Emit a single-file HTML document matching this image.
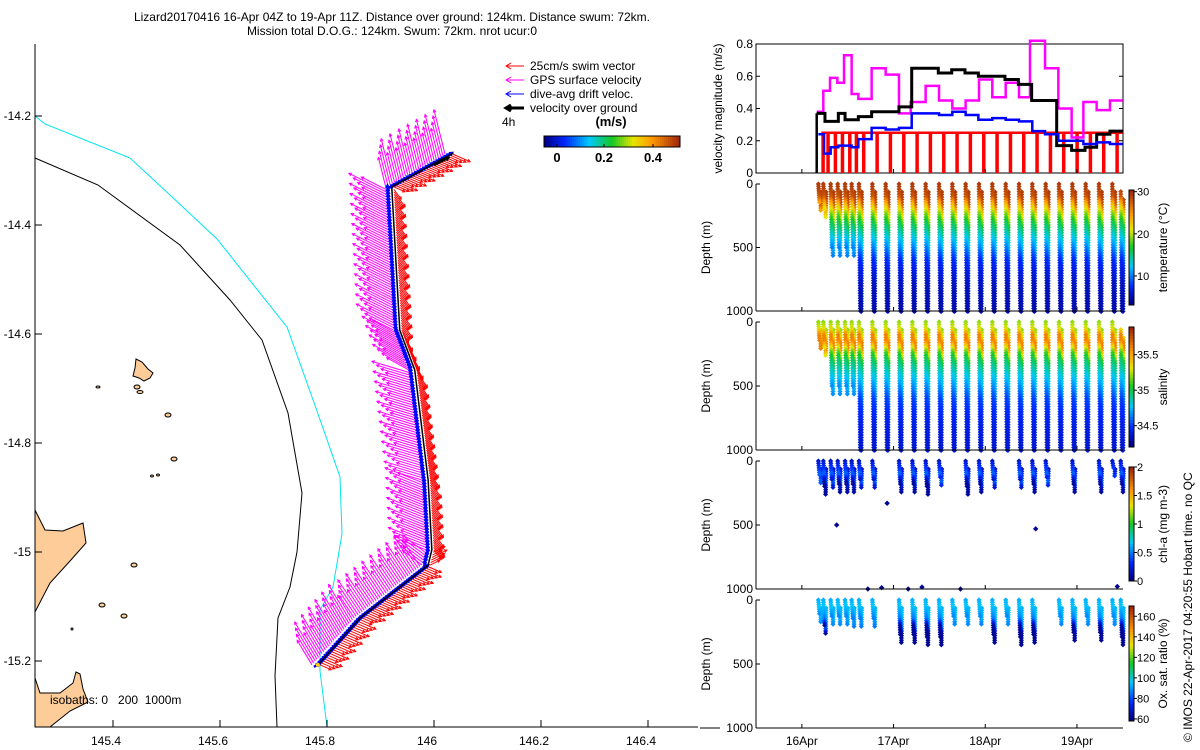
<!DOCTYPE html>
<html><head><meta charset="utf-8"><style>
html,body{margin:0;padding:0;background:#fff;}
svg{display:block;font-family:"Liberation Sans",sans-serif;}
</style></head><body>
<svg id="chart" width="1200" height="750" viewBox="0 0 1200 750" xmlns="http://www.w3.org/2000/svg">
<g font-size="12" text-anchor="middle" fill="#000">
<text x="392" y="21">Lizard20170416 16-Apr 04Z to 19-Apr 11Z. Distance over ground: 124km. Distance swum: 72km.</text>
<text x="392" y="35">Mission total D.O.G.: 124km. Swum: 72km. nrot ucur:0</text>
</g>
<g id="map"></g>
<g id="right"></g>
<text transform="translate(1192,742) rotate(-90)" font-size="12">© IMOS 22-Apr-2017 04:20:55 Hobart time. no QC</text>
</svg>
<script>
// ---------- DATA ----------
const trackLon=[145.783,145.862,145.989,145.996,145.989,145.964,145.936,145.921,146.036];
const trackLat=[-15.207,-15.121,-15.024,-14.996,-14.868,-14.666,-14.593,-14.330,-14.268];
const gpsU=[-0.30,-0.30,-0.40,-0.50,-0.50,-0.45,-0.50,-0.15];
const gpsV=[0.50,0.45,0.30,0.20,0.15,0.25,0.25,0.60];
const swimU=[0.23,0.23,0.20,0.15,0.14,0.12,0.15,0.23];
const swimV=[-0.10,-0.10,0.10,-0.20,-0.20,-0.21,-0.20,-0.10];
const driftU=[0.30,0.35,0.05,-0.02,-0.05,-0.05,-0.02,0.30];
const driftV=[0.15,0.20,0.35,0.35,0.35,0.35,0.35,0.20];
const mapXTicks=[145.4,145.6,145.8,146,146.2,146.4];
const mapYTicks=[-14.2,-14.4,-14.6,-14.8,-15,-15.2];
const gpsT=[16.162,16.234,16.307,16.387,16.460,16.543,16.616,16.761,16.914,17.059,17.187,17.350,17.496,17.641,17.786,17.932,18.077,18.223,18.368,18.488,18.652,18.797,18.942,19.070,19.215,19.360];
const gpsMag=[0.38,0.51,0.59,0.56,0.73,0.49,0.46,0.65,0.61,0.37,0.44,0.54,0.45,0.40,0.45,0.58,0.47,0.56,0.47,0.85,0.65,0.40,0.22,0.44,0.39,0.45];
const dogT=[16.162,16.252,16.398,16.471,16.616,16.761,17.059,17.198,17.488,17.634,17.779,17.925,18.070,18.215,18.361,18.506,18.779,18.942,19.088,19.215,19.360];
const dogMag=[0.37,0.32,0.37,0.33,0.35,0.38,0.41,0.65,0.62,0.64,0.62,0.60,0.60,0.58,0.55,0.45,0.17,0.14,0.16,0.24,0.26];
const driftT=[16.180,16.242,16.314,16.398,16.543,16.616,16.761,16.914,17.059,17.198,17.496,17.641,17.786,17.925,18.077,18.223,18.368,18.513,18.652,18.797,18.942,19.070,19.215,19.360];
const driftMag=[0.24,0.12,0.16,0.17,0.16,0.21,0.28,0.27,0.28,0.37,0.36,0.38,0.36,0.33,0.34,0.33,0.32,0.26,0.24,0.20,0.20,0.18,0.19,0.18];
const swimMag=0.25;
const diveT=[16.180,16.234,16.314,16.391,16.471,16.543,16.623,16.769,16.914,17.060,17.205,17.350,17.496,17.641,17.786,17.932,18.077,18.223,18.368,18.513,18.659,18.804,18.950,19.095,19.240,19.386,19.477];
const diveMax=[160,200,500,500,500,500,1000,1000,1000,1000,1000,1000,1000,1000,1000,1000,1000,1000,1000,1000,1000,1000,1000,1000,1000,1000,1000];
const diveStart=[0,0,0,0,0,0,0,0,0,0,0,0,0,0,0,0,0,0,0,0,0,0,0,0,0,0,60];
const profDepth=[0,50,100,150,200,250,300,400,500,600,800,1000];
const tempVal=[29.5,29,28,24,21,18,16,13,10,7,5,4.5];
const salVal=[35.2,35.3,35.6,35.6,35.3,35.05,34.95,34.8,34.65,34.5,34.4,34.35];
const chlDepth=[0,40,80,100,120,160,200];
const chlVal=[0.15,0.3,0.35,0.5,0.3,0.1,0.05];
const chlMaxD=[120,200,160,180,180,180,160,150,0,180,180,200,140,0,200,180,160,0,160,180,140,0,180,0,180,60,180];
const chlOutD=[500,330,530,1000,990,1000,985,1000,980];
const chlOutT=[16.38,16.93,18.55,16.72,16.87,17.16,17.31,17.73,19.44];
const oxDepth=[0,50,100,150,200,300];
const oxVal=[92,95,90,85,62,60];
const oxMaxD=[120,200,140,140,140,150,150,150,0,280,280,290,290,140,140,140,280,140,290,280,0,140,260,140,260,140,290];
// ---------- HELPERS ----------
const NS='http://www.w3.org/2000/svg';
function mk(tag,attrs,parent){const e=document.createElementNS(NS,tag);for(const k in attrs)e.setAttribute(k,attrs[k]);parent.appendChild(e);return e;}
const stops=[[0,[0,0,130]],[0.15,[0,40,255]],[0.33,[0,200,255]],[0.5,[20,200,40]],[0.66,[230,230,0]],[0.8,[255,150,0]],[1,[160,40,10]]];
function jet(f){f=Math.max(0,Math.min(1,f));for(let i=1;i<stops.length;i++){if(f<=stops[i][0]){const a=stops[i-1],b=stops[i];const u=(f-a[0])/(b[0]-a[0]);const c=a[1].map((v,j)=>Math.round(v+(b[1][j]-v)*u));return `rgb(${c[0]},${c[1]},${c[2]})`;}}return 'rgb(160,40,10)';}
function interp(xs,ys,x){if(x<=xs[0])return ys[0];for(let i=1;i<xs.length;i++)if(x<=xs[i]){const u=(x-xs[i-1])/(xs[i]-xs[i-1]);return ys[i-1]+(ys[i]-ys[i-1])*u;}return ys[ys.length-1];}
// ---------- MAP ----------
const map=document.getElementById('map');
const mx=lon=>113+(lon-145.4)*535;
const my=lat=>552-(lat+15)*545;
const land=[
"M35,510 L45,530 L63,531 L83,523 L86,543 L70,561 L50,583 L35,612 Z",
"M35,678 L40,693 L60,693 L73,683 L76,672 L80,674 L83,689 L88,702 L70,711 L50,727 L35,727 Z",
"M136,359 L142,362 L148,369 L153,373 L150,378 L144,381 L139,378 L133,376 L135,368 Z"];
land.forEach((d,i)=>{const p=mk('path',{d:d,fill:'#fdcc99',stroke:'#000','stroke-width':1},map);

});
const isl=[[137,387,3,2],[140,392,3,1.5],[168,415,3,2],[174,459,3,2],[152,476,1.5,1],[158,475,1.5,1],[134,565,3,2],[102,605,3,2],[124,616,3,2],[98,387,2,1],[72,629,1,1]];
isl.forEach(s=>{const e=mk('ellipse',{cx:s[0],cy:s[1],rx:s[2],ry:s[3],fill:'#fdcc99',stroke:'#000','stroke-width':1},map);

});
const cy200=mk('polyline',{points:"35,116 45,124 130,158 170,195 217,239 287,327 317,411 340,477 342,534 333,587 320,610 320,671 327,727",fill:'none',stroke:'#00e5ee','stroke-width':1},map);


const bk1000=mk('polyline',{points:"35,158 98,185 180,245 230,300 262,340 288,413 302,493 297,552 290,587 278,618 275,676 277,727",fill:'none',stroke:'#000','stroke-width':1},map);


const ax=mk('path',{d:"M35,44 L35,727 L698,727",fill:'none',stroke:'#000','stroke-width':1},map);


mapXTicks.forEach(v=>{const x=mx(v);mk('line',{x1:x,x2:x,y1:727,y2:720,stroke:'#000'},map);
const t=mk('text',{x:x-7,y:745,'font-size':12,'text-anchor':'middle'},map);t.textContent=String(v);

});
mapYTicks.forEach(v=>{const y=my(v);mk('line',{x1:35,x2:42,y1:y,y2:y,stroke:'#000'},map);
const t=mk('text',{x:31,y:y+4,'font-size':12,'text-anchor':'end'},map);t.textContent=String(v);

});
const iso=mk('text',{x:50,y:704,'font-size':12},map);iso.textContent='isobaths: 0   200  1000m';
iso.style.whiteSpace='pre';


const SC=70;
function arrow(g,x,y,u,v,col,w,h){const x2=x+u*SC,y2=y-v*SC;mk('line',{x1:x,y1:y,x2:x2,y2:y2,stroke:col,'stroke-width':w},g);
const a=Math.atan2(y2-y,x2-x);h=h||3;
mk('polyline',{points:`${x2-h*Math.cos(a-0.5)},${y2-h*Math.sin(a-0.5)} ${x2},${y2} ${x2-h*Math.cos(a+0.5)},${y2-h*Math.sin(a+0.5)}`,fill:'none',stroke:col,'stroke-width':w},g);}
const gG=mk('g',{},map);
const gR=mk('g',{},map);
const gB=mk('g',{},map);
for(let s=0;s<trackLon.length-1;s++){
 const x0=mx(trackLon[s]),y0=my(trackLat[s]),x1=mx(trackLon[s+1]),y1=my(trackLat[s+1]);
 const L=Math.hypot(x1-x0,y1-y0);const n=Math.max(2,Math.round(L/2.5));
 for(let k=0;k<n;k++){const u=k/n;const x=x0+(x1-x0)*u,y=y0+(y1-y0)*u;
  const j=(k%4)*0.12+0.7;
  arrow(gG,x-6,y,gpsU[s]*j,gpsV[s]*j,'#ff00ff',1);
  arrow(gR,x+2,y,swimU[s]*j,swimV[s]*j,'#ff0000',1);}
}
for(let s=0;s<trackLon.length-1;s++){
 const x0=mx(trackLon[s]),y0=my(trackLat[s]),x1=mx(trackLon[s+1]),y1=my(trackLat[s+1]);
 const L=Math.hypot(x1-x0,y1-y0);const n=Math.max(2,Math.round(L/3));
 for(let k=0;k<n;k++){const u=k/n;const x=x0+(x1-x0)*u,y=y0+(y1-y0)*u;
  arrow(gB,x-4,y+2,driftU[s]*0.25,driftV[s]*0.25,'#0000ff',2.5,3);}
}
const trk=mk('polyline',{points:trackLon.map((l,i)=>mx(l)+','+my(trackLat[i])).join(' '),fill:'none',stroke:'#000','stroke-width':1.5},map);


const vog=mk('g',{},map);
arrow(vog,mx(146.0),my(-14.29),0.2,0.1,'#000',2.5);
mk('circle',{cx:mx(trackLon[0]),cy:my(trackLat[0]),r:2,fill:'#ffcc00'},map);
const leg=mk('g',{'font-size':12},map);
[['25cm/s swim vector','#ff0000',1],['GPS surface velocity','#ff00ff',1],['dive-avg drift veloc.','#0000ff',1],['velocity over ground','#000',3]].forEach((e,i)=>{
 const y=66+i*14;const g=mk('g',{},leg);
 
 
 mk('line',{x1:506,x2:524,y1:y,y2:y,stroke:e[1],'stroke-width':e[2]},g);
 mk('polyline',{points:`511,${y-3} 506,${y} 511,${y+3}`,fill:'none',stroke:e[1],'stroke-width':e[2]},g);
 const t=mk('text',{x:530,y:y+4},g);t.textContent=e[0];});
const t4=mk('text',{x:502,y:126,'font-size':12},leg);t4.textContent='4h';
const tu=mk('text',{x:611,y:126,'font-size':13,'font-weight':'bold','text-anchor':'middle'},leg);tu.textContent='(m/s)';
const cbm=mk('g',{},leg);
for(let i=0;i<68;i++)mk('rect',{x:544+i*2,y:136,width:2.2,height:11,fill:jet(i/67)},cbm);
mk('rect',{x:544,y:136,width:136,height:11,fill:'none',stroke:'#000'},cbm);
[['0',557],['0.2',604],['0.4',653]].forEach(a=>{mk('line',{x1:a[1],x2:a[1],y1:147,y2:144,stroke:'#000'},cbm);
const t=mk('text',{x:a[1],y:162,'font-size':13,'font-weight':'bold','text-anchor':'middle'},cbm);t.textContent=a[0];});
// ---------- RIGHT PANELS ----------
const R=document.getElementById('right');
const X0=756,X1=1123;
const xT=t=>X0+(t-15.5)*91.7;
const panels=[[44,173],[184,311],[322,450],[461,589],[600,728]];
function yAxis(p,g,ticks,fn,label,lx){const [t,b]=p;
 mk('line',{x1:X0,x2:X0,y1:t,y2:b,stroke:'#000'},g);mk('line',{x1:X0,x2:X1,y1:b,y2:b,stroke:'#000'},g);
 ticks.forEach(v=>{const y=fn(v);mk('line',{x1:X0,x2:X0+4,y1:y,y2:y,stroke:'#000'},g);
 const tx=mk('text',{x:X0-3,y:y+4,'font-size':12,'text-anchor':'end'},g);tx.textContent=String(v);
 
 });
 const yl=mk('text',{transform:`translate(${lx},${(t+b)/2}) rotate(-90)`,'font-size':12,'text-anchor':'middle'},g);yl.textContent=label;
 
 }
function cbar(g,top,bot,vmin,vmax,ticks,label){
 const n=40;for(let i=0;i<n;i++){const y=top+(bot-top)*i/n;mk('rect',{x:1129,y:y,width:5,height:(bot-top)/n+0.5,fill:jet(1-i/(n-1))},g);}
 mk('rect',{x:1129,y:top,width:5,height:bot-top,fill:'none',stroke:'#000'},g);
 ticks.forEach(v=>{const y=bot-(v-vmin)/(vmax-vmin)*(bot-top);mk('line',{x1:1134,x2:1137,y1:y,y2:y,stroke:'#000'},g);
 const t=mk('text',{x:1137,y:y+4,'font-size':11},g);t.textContent=String(v);});
 const l=mk('text',{transform:`translate(1167,${(top+bot)/2}) rotate(-90)`,'font-size':12,'text-anchor':'middle'},g);l.textContent=label;}
const g1=mk('g',{},R);
const yV=v=>173-Math.min(v,0.82)/0.8*129;
mk('rect',{x:X0,y:44,width:X1-X0,height:129,fill:'none',stroke:'#000'},g1);
yAxis(panels[0],g1,[0,0.2,0.4,0.6,0.8],yV,'velocity magnitude (m/s)',722);
[0.2,0.4,0.6].forEach(v=>mk('line',{x1:X1,x2:X1-4,y1:yV(v),y2:yV(v),stroke:'#000'},g1));
function steps(T,V,col,w,name){let pts=[];for(let i=0;i<T.length;i++){const x=xT(T[i]);if(i>0)pts.push(x+','+yV(V[i-1]));pts.push(x+','+yV(V[i]));}
 pts.push(xT(19.5)+','+yV(V[V.length-1]));
 const p=mk('polyline',{points:pts.join(' '),fill:'none',stroke:col,'stroke-width':w},g1);
 
 
 return p;}
const rg=mk('g',{},g1);
mk('line',{x1:xT(diveT[0])+3,x2:xT(19.5),y1:yV(swimMag),y2:yV(swimMag),stroke:'#ff0000','stroke-width':2.5},rg);
diveT.slice(0,26).forEach(t=>{const x=xT(t)+3;mk('rect',{x:x,y:yV(swimMag),width:3.5,height:173-yV(swimMag),fill:'#ff0000'},rg);});
steps(gpsT,gpsMag,'#ff00ff',2.5,'gps-speed-series');
steps(dogT,dogMag,'#000',3,'over-ground-speed-series');
mk('line',{x1:xT(dogT[0]),x2:xT(dogT[0]),y1:173,y2:yV(dogMag[0]),stroke:'#000','stroke-width':2.5},g1);
steps(driftT,driftMag,'#0000ff',2.5,'drift-speed-series');
function scatter(g,p,vals,depths,vmin,vmax,maxArr,startArr){
 const yD=d=>p[0]+d/1000*(p[1]-p[0]);
 diveT.forEach((t,i)=>{const md=maxArr[i];if(md<=0)return;const st=startArr?startArr[i]:0;
  for(let d=st;d<=md;d+=(md>300?20:18)){const c=jet((interp(depths,vals,d)-vmin)/(vmax-vmin));
   const f=d/md;
   [t+0.015*f, t+0.03-0.005*f].forEach((tt,k)=>{const x=xT(tt),y=yD(d)+(k?8:0);
    if(y>p[1]+1)return;
    mk('path',{d:`M${x-2},${y} L${x},${y-2} L${x+2},${y} L${x},${y+2} Z`,fill:c,stroke:c,'stroke-width':0.8},g);});}});}
const g2=mk('g',{},R);
const yD2=d=>184+d/1000*127;
scatter(g2,panels[1],tempVal,profDepth,3.1,30.4,diveMax,diveStart);
yAxis(panels[1],g2,[0,500,1000],yD2,'Depth (m)',710);
cbar(g2,190,305,3.1,30.4,[10,20,30],'temperature (°C)');
const g3=mk('g',{},R);
const yD3=d=>322+d/1000*128;
scatter(g3,panels[2],salVal,profDepth,34.2,35.88,diveMax,diveStart);
yAxis(panels[2],g3,[0,500,1000],yD3,'Depth (m)',710);
cbar(g3,327,447,34.2,35.89,[34.5,35,35.5],'salinity');
const g4=mk('g',{},R);
const yD4=d=>461+d/1000*128;
scatter(g4,panels[3],chlVal,chlDepth,0,2,chlMaxD,null);
chlOutT.forEach((t,i)=>{const x=xT(t),y=yD4(chlOutD[i]);mk('path',{d:`M${x-2},${y} L${x},${y-2} L${x+2},${y} L${x},${y+2} Z`,fill:jet(0.02),stroke:jet(0.02)},g4);});
yAxis(panels[3],g4,[0,500,1000],yD4,'Depth (m)',710);
cbar(g4,467,581,0,2,[0,0.5,1,1.5,2],'chl-a (mg m-3)');
const g5=mk('g',{},R);
const yD5=d=>600+d/1000*128;
scatter(g5,panels[4],oxVal,oxDepth,58,170,oxMaxD,null);
yAxis(panels[4],g5,[0,500,1000],yD5,'Depth (m)',710);
mk('line',{x1:700,x2:720,y1:728,y2:728,stroke:'#000'},g5);
cbar(g5,606,721,58,170,[60,80,100,120,140,160],'Ox. sat. ratio (%)');
const xTicks=['16Apr','17Apr','18Apr','19Apr'];
const xTickDays=[16,17,18,19];
xTickDays.forEach((d,i)=>{const x=xT(d);panels.forEach(p=>mk('line',{x1:x,x2:x,y1:p[1],y2:p[1]-4,stroke:'#000'},R));
 const t=mk('text',{x:x,y:745,'font-size':12,'text-anchor':'middle'},R);t.textContent=xTicks[i];
 
 });
</script>
</body></html>
